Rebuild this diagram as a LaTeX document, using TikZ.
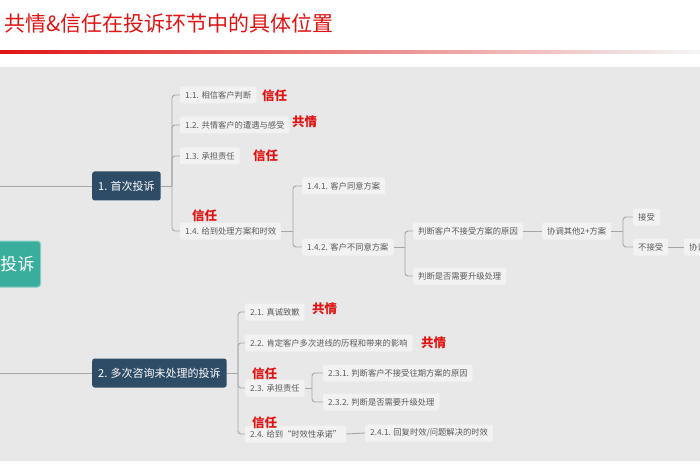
\documentclass[tikz,border=0pt]{standalone}
\usepackage{fontspec}
\newfontfamily\cjk{Noto Sans CJK SC}
\definecolor{bgray}{HTML}{E8E8E8}
\definecolor{boxgray}{HTML}{F2F2F2}
\definecolor{txtgray}{HTML}{5A5A5A}
\definecolor{linegray}{HTML}{A6A6A6}
\definecolor{darkblue}{HTML}{2F4C66}
\definecolor{teal1}{HTML}{3AAE9C}
\definecolor{titlered}{HTML}{E01414}
\tikzset{
  leaf/.style={anchor=west, fill=boxgray, text=txtgray, rounded corners=2pt,
    font=\cjk\fontsize{8.3}{9}\selectfont, inner xsep=5pt, inner ysep=0pt, minimum height=17pt},
  main/.style={anchor=west, fill=darkblue, text=white, rounded corners=2.5pt,
    font=\cjk\fontsize{11}{12}\selectfont, inner xsep=6pt, inner ysep=0pt, minimum height=29pt},
  tag/.style={anchor=west, text=titlered, font=\cjk\bfseries\fontsize{12.5}{13}\selectfont, inner sep=0pt},
  conn/.style={draw=linegray, line width=0.9pt, rounded corners=3pt},
}
\begin{document}
\begin{tikzpicture}[x=1pt,y=-1pt]
\useasboundingbox (0,0) rectangle (700,470);
% background
\fill[white] (0,0) rectangle (700,470);
\fill[bgray] (0,67) rectangle (700,461);
% title
\node[anchor=west, text=titlered, font=\cjk\fontsize{21}{22}\selectfont, inner sep=0pt] (title) at (4,23) {共情\&信任在投诉环节中的具体位置};
\shade[left color=titlered, middle color=titlered!80, right color=gray!8] (0,51) rectangle (700,53.5);

% root
\node[anchor=east, fill=teal1, draw=teal1!60!white, line width=1pt, text=white, rounded corners=3pt,
  font=\cjk\fontsize{17}{18}\selectfont, minimum height=46pt, inner xsep=6pt] (root) at (41,264) {投诉};
\coordinate (r1) at (0,186);
\coordinate (r2) at (0,373);

% level 1
\node[main] (n1) at (92,186) {1. 首次投诉};
\node[main] (n2) at (92,373) {2. 多次咨询未处理的投诉};
\draw[conn] (r1) -- (n1.west);
\draw[conn] (r2) -- (n2.west);

% branch 1
\node[leaf] (c11) at (180,95) {1.1. 相信客户判断};
\node[leaf] (c12) at (180,125) {1.2. 共情客户的遭遇与感受};
\node[leaf] (c13) at (180,156) {1.3. 承担责任};
\node[leaf] (c14) at (180,231) {1.4. 给到处理方案和时效};
\draw[conn] (n1.east) -- (172,186) coordinate (b1);
\foreach \c in {c11,c12,c13,c14} \draw[conn] (b1) |- (\c.west);

\node[leaf] (c141) at (302,186) {1.4.1. 客户同意方案};
\node[leaf] (c142) at (302,247) {1.4.2. 客户不同意方案};
\draw[conn] (c14.east) -- (293,231) coordinate (b14);
\foreach \c in {c141,c142} \draw[conn] (b14) |- (\c.west);

\node[leaf] (d1) at (413,231) {判断客户不接受方案的原因};
\node[leaf] (d2) at (413,276) {判断是否需要升级处理};
\draw[conn] (c142.east) -- (405,247) coordinate (b142);
\foreach \c in {d1,d2} \draw[conn] (b142) |- (\c.west);

\node[leaf] (e1) at (542,231) {协调其他2+方案};
\draw[conn] (d1.east) -- (e1.west);
\node[leaf] (f1) at (633,217) {接受};
\node[leaf] (f2) at (633,247) {不接受};
\draw[conn] (e1.east) -- (623,231) coordinate (be1);
\foreach \c in {f1,f2} \draw[conn] (be1) |- (\c.west);
\node[leaf] (g1) at (684,247) {协调};
\draw[conn] (f2.east) -- (g1.west);

% branch 2
\node[leaf] (c21) at (245,312) {2.1. 真诚致歉};
\node[leaf] (c22) at (245,343) {2.2. 肯定客户多次进线的历程和带来的影响};
\node[leaf] (c23) at (245,388) {2.3. 承担责任};
\node[leaf] (c24) at (245,434) {2.4. 给到“时效性承诺”};
\draw[conn] (n2.east) -- (238,373) coordinate (b2);
\foreach \c in {c21,c22,c23,c24} \draw[conn] (b2) |- (\c.west);

\node[leaf] (c231) at (323,373) {2.3.1. 判断客户不接受往期方案的原因};
\node[leaf] (c232) at (323,402) {2.3.2. 判断是否需要升级处理};
\draw[conn] (c23.east) -- (312,388) coordinate (b23);
\foreach \c in {c231,c232} \draw[conn] (b23) |- (\c.west);

\node[leaf] (c241) at (365,433) {2.4.1. 回复时效/问题解决的时效};
\draw[conn] (c24.east) -- (c241.west);

% tags
\node[tag] (t1) at (262,96) {信任};
\node[tag] (t2) at (292,122) {共情};
\node[tag] (t3) at (253,156) {信任};
\node[tag] (t4) at (192,216) {信任};
\node[tag] (t5) at (312,309) {共情};
\node[tag] (t6) at (421,343) {共情};
\node[tag] (t7) at (252,374) {信任};
\node[tag] (t8) at (252,423) {信任};
\end{tikzpicture}
\end{document}
